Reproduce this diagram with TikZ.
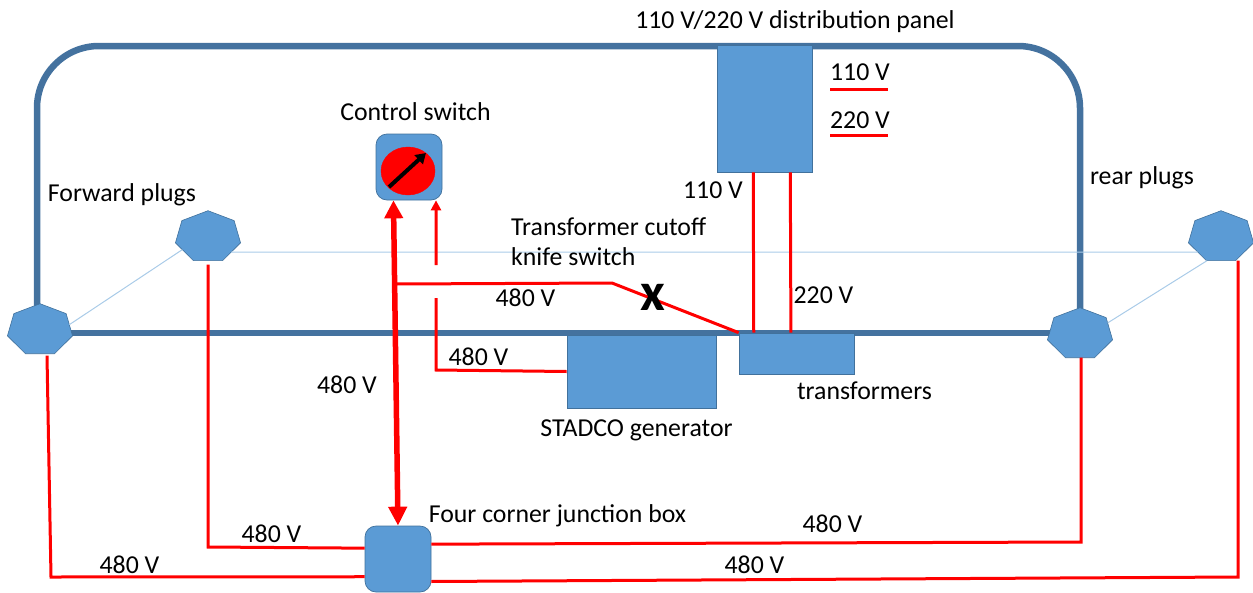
\documentclass[tikz,border=0pt]{standalone}
\usepackage{fontspec}
\setmainfont{Carlito}
\usetikzlibrary{shapes.geometric,arrows.meta,backgrounds}
\definecolor{boxblue}{HTML}{5B9BD5}
\definecolor{boxedge}{HTML}{41719C}
\definecolor{framecol}{HTML}{44729F}
\definecolor{wirelight}{HTML}{A9CBE8}
\tikzset{
  box/.style={shape=rectangle, draw=boxedge, line width=0.7pt, fill=boxblue, inner sep=0pt},
  roundbox/.style={box, rounded corners=11pt, minimum size=66pt},
  plug/.style={shape=regular polygon, regular polygon sides=7, draw=boxedge, line width=0.6pt, fill=boxblue, inner sep=0pt, outer sep=0pt, minimum size=52.6pt, xscale=1.27, transform shape},
  wire/.style={draw=red, line width=3pt},
  lbl/.style={font=\fontsize{25.8}{25.8}\selectfont, inner sep=0pt},
}
\begin{document}
\begin{tikzpicture}[x=1pt, y=-1pt]
\useasboundingbox (0,0) rectangle (1253,592);

\node [plug] (PFL) at (40,330) {};
\node [plug] (PFU) at (208,237) {};
\node [plug] (PRL) at (1080,334) {};
\node [plug] (PRU) at (1221,237) {};
\node [box, minimum width=95pt, minimum height=127pt] (Panel) at (764.5,108.5) {};
\node [box, minimum width=115pt, minimum height=41pt] (Trans) at (796.5,353.5) {};
\node [box, minimum width=149pt, minimum height=73pt] (Gen) at (641.5,371.5) {};
\node [roundbox] (Ctrl) at (409,167) {};
\node [roundbox] (Junc) at (398,559) {};
\node [shape=ellipse, fill=red, draw=red, inner sep=0pt, minimum width=54pt, minimum height=48pt] (Dial) at (408,171) {};

\coordinate (TopL) at (37,46);
\coordinate (TopR) at (1080,46);
\coordinate (Out1a) at (830,89);
\coordinate (Out1b) at (888,89);
\coordinate (Out2a) at (830,135);
\coordinate (Out2b) at (888,135);
\coordinate (Feed1) at (436,265);
\coordinate (Feed2) at (436,298);
\coordinate (Feed3) at (436,370);
\coordinate (Tap) at (396,284);
\coordinate (Knife) at (612,283);
\coordinate (Elb1) at (51,577);
\coordinate (Elb2) at (208,547);
\coordinate (Elb3) at (1081,542);
\coordinate (Elb4) at (1238,577);
\coordinate (Needle1) at (389,187);
\coordinate (Needle2) at (426,153);

\begin{scope}[on background layer]
\draw[framecol, line width=6.5pt, rounded corners=62pt] ([xshift=-3pt]PFL.center) -- (TopL) -- (TopR) -- (PRL.center);
\draw[framecol, line width=6.5pt] ([yshift=-3pt]PFL.center) -- ([yshift=1pt]PRL.center);
\end{scope}

\draw[wirelight, line width=1pt] (PFL.13) -- (PFU.212);
\draw[wirelight, line width=1pt] (PFU.-40) -- (PRU.220);
\draw[wirelight, line width=1pt] (PRL.27) -- (PRU.245);

\draw[black, line width=4pt, -{Triangle[width=12pt,length=10pt]}] (Needle1) -- (Needle2);

\draw[wire, line width=5.5pt, {Triangle[width=18pt,length=18pt]}-{Triangle[width=18pt,length=19pt]}, red] (Ctrl.245) -- (Junc.north);
\draw[wire, -{Triangle[width=10pt,length=10pt]}, red] (Feed1) -- (Ctrl.-51);
\draw[wire] (Feed2) -- (Feed3) -- (Gen.west);
\draw[wire] (Tap) -- (Knife) -- (Trans.north west);
\draw[wire] (Panel.260) -- (Trans.154);
\draw[wire] (Panel.292) -- (Trans.105);
\draw[wire] (Out1a) -- (Out1b);
\draw[wire] (Out2a) -- (Out2b);
\draw[wire] ([xshift=7pt,yshift=-2pt]PFL.south) -- (Elb1) -- (Junc.208);
\draw[wire] ([yshift=-4pt]PFU.south) -- (Elb2) -- (Junc.162);
\draw[wire] (Junc.24) -- (Elb3) -- ([xshift=1pt]PRL.south);
\draw[wire] (Junc.-34) -- (Elb4) -- ([xshift=17pt]PRU.south);

\node [lbl] (LPanel) at (795,22) {110 V/220 V distribution panel};
\node [lbl] (LOut1) at (860,72) {110 V};
\node [lbl] (LOut2) at (860,120) {220 V};
\node [lbl] (LCtrl) at (415.5,112) {Control switch};
\node [lbl] (LFwd) at (122,195) {Forward plugs};
\node [lbl] (LRear) at (1142,178) {rear plugs};
\node [lbl] (L110) at (713,190) {110 V};
\node [lbl, anchor=west] (LCut1) at (511,227) {Transformer cutoff};
\node [lbl, anchor=west] (LCut2) at (511,257) {knife switch};
\node [lbl] (L220) at (823.5,295) {220 V};
\node [lbl] (LA) at (525.5,298) {480 V};
\node [lbl] (LB) at (478.5,357) {480 V};
\node [lbl] (LC) at (347,385) {480 V};
\node [lbl] (LTrans) at (864.5,391) {transformers};
\node [lbl] (LGen) at (636.5,430) {STADCO generator};
\node [lbl] (LJunc) at (557.5,516) {Four corner junction box};
\node [lbl] (LD) at (832.5,524) {480 V};
\node [lbl] (LE) at (271.5,534) {480 V};
\node [lbl] (LF) at (129.5,565) {480 V};
\node [lbl] (LG) at (754.5,565) {480 V};
\node [font=\fontsize{54}{54}\bfseries\selectfont, inner sep=0pt] (LX) at (653,297) {x};
\end{tikzpicture}
\end{document}
